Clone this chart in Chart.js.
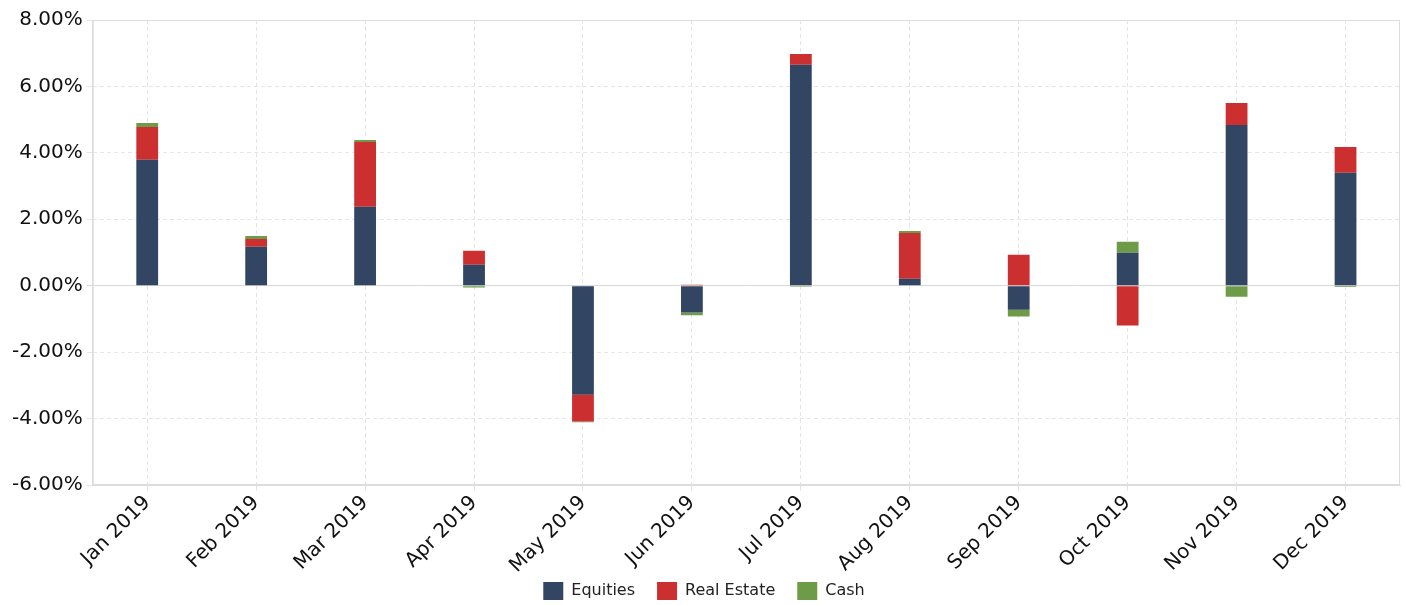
<!DOCTYPE html>
<html>
<head>
<meta charset="utf-8">
<script src="https://cdn.jsdelivr.net/npm/chart.js@4"></script>
<style>
  html, body { margin: 0; padding: 0; background: #fff; }
  #wrap { width: 1405px; height: 605px; }
</style>
</head>
<body>
<div id="wrap"><canvas id="returns"></canvas></div>
<script>
const months = ['Jan 2019', 'Feb 2019', 'Mar 2019', 'Apr 2019', 'May 2019', 'Jun 2019',
                'Jul 2019', 'Aug 2019', 'Sep 2019', 'Oct 2019', 'Nov 2019', 'Dec 2019']
const equities   = [3.79, 1.17, 2.38, 0.63, -3.28, -0.81, 6.65, 0.21, -0.72, 0.99, 4.84, 3.40]
const realEstate = [0.99, 0.24, 1.95, 0.42, -0.81, 0.03, 0.33, 1.38, 0.93, -1.20, 0.66, 0.78]
const cash       = [0.12, 0.09, 0.06, -0.05, -0.02, -0.08, -0.03, 0.06, -0.21, 0.33, -0.33, -0.04]
const yTicks = [-6, -4, -2, 0, 2, 4, 6, 8]

document.addEventListener("DOMContentLoaded", () => {
    Chart.defaults.font.family = "'DejaVu Sans', sans-serif"
    Chart.defaults.color = '#111'

    const ctx = document.getElementById("returns").getContext("2d")
    const bar = (label, data, color) => ({
        label: label,
        data: data,
        backgroundColor: color,
        borderWidth: 0,
        barPercentage: 0.2,
        categoryPercentage: 1
    })

    new Chart(ctx, {
        type: 'bar',
        data: {
            labels: months,
            datasets: [
                bar('Equities', equities, '#324563'),
                bar('Real Estate', realEstate, '#cc2f2f'),
                bar('Cash', cash, '#6e9b48')
            ]
        },
        options: {
            responsive: true,
            maintainAspectRatio: false,
            animation: false,
            layout: { padding: { top: 20, right: 5, left: 8, bottom: 0 } },
            plugins: {
                legend: {
                    position: 'bottom',
                    labels: {
                        boxWidth: 20,
                        boxHeight: 18,
                        padding: 22,
                        font: { size: 16 },
                        color: '#222'
                    }
                },
                tooltip: { enabled: false }
            },
            scales: {
                x: {
                    stacked: true,
                    afterFit: (scale) => { scale.height = 88 },
                    grid: {
                        color: '#e4e4e4',
                        tickLength: 6,
                        offset: false
                    },
                    border: { color: '#dcdcdc', dash: [4, 3] },
                    ticks: {
                        maxRotation: 45,
                        minRotation: 45,
                        font: { size: 20 },
                        padding: 0
                    }
                },
                y: {
                    stacked: true,
                    min: -6,
                    max: 8,
                    afterBuildTicks: (axis) => {
                        axis.ticks = yTicks.map(v => ({ value: v }))
                    },
                    grid: {
                        color: (c) => c.tick && c.tick.value === 0 ? '#d8d8d8' : '#e6e6e6',
                        tickLength: 6
                    },
                    border: { color: '#dcdcdc', dash: (c) => c.tick && c.tick.value === 0 ? [] : [4, 3] },
                    ticks: {
                        font: { size: 20 },
                        padding: 4,
                        callback: (v) => v.toFixed(2) + '%'
                    }
                }
            }
        },
        plugins: [{
            // squeeze the legend so the rotated month labels keep their room
            id: 'legendHeight',
            beforeLayout(chart) {
                const lg = chart.legend
                if (lg && !lg._short) {
                    const fit = lg.fit.bind(lg)
                    lg.fit = function () { fit(); this.height = 32 }
                    lg.draw = function () {
                        if (!this.options.display) return
                        const c = chart.ctx
                        c.save()
                        c.translate(0, -13)
                        this._draw()
                        c.restore()
                    }
                    lg._short = true
                }
            }
        }, {
            id: 'frame',
            afterDraw(chart) {
                const a = chart.chartArea
                const c = chart.ctx
                c.save()
                c.strokeStyle = '#dcdcdc'
                c.lineWidth = 1
                c.strokeRect(a.left + 0.5, a.top + 0.5, a.right - a.left - 1, a.bottom - a.top - 1)
                c.restore()
            }
        }]
    })
})
</script>
</body>
</html>
